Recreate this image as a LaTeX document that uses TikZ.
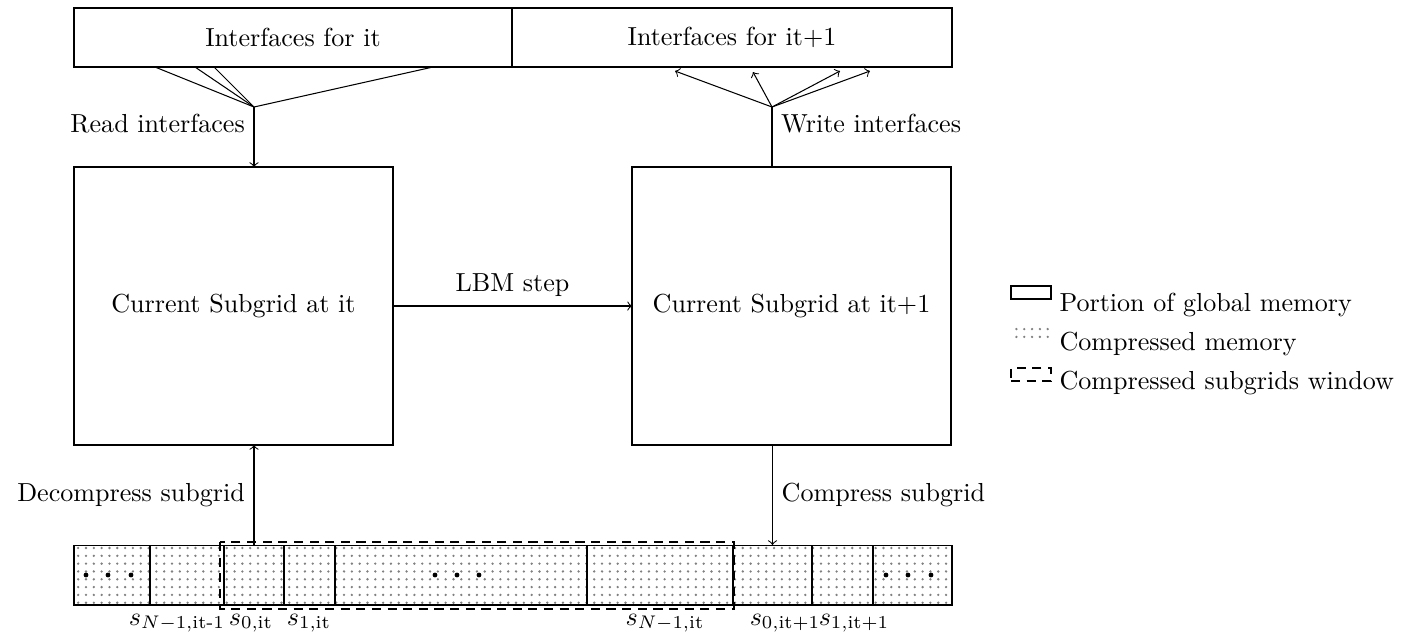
\documentclass[tikz,border=0pt]{standalone}
\usepackage{amsmath}
\usetikzlibrary{patterns}
\begin{document}
\begin{tikzpicture}[x=0.3837pt,y=-0.3837pt,
  box/.style={draw, rectangle, inner sep=0pt, outer sep=0pt, line width=0.4pt},
  ifbox/.style={box, minimum height=22.64pt},
  subbox/.style={box, minimum width=122.4pt, minimum height=106.67pt},
  cell/.style={draw, rectangle, inner sep=0pt, outer sep=0pt, minimum height=23.02pt, pattern=dots, pattern color=gray},
  win/.style={draw, line width=0.9pt, dash pattern=on 3.5pt off 2.5pt, rectangle, inner sep=0pt, outer sep=0pt},
  conn/.style={->},
  fan/.style={-},
  lab/.style={anchor=base, inner sep=0pt},
  edot/.style={fill=black},
  legtext/.style={anchor=base west, inner sep=0pt}]
\useasboundingbox (0,0) rectangle (1413,634);

% interface boxes
\node[ifbox, minimum width=168.06pt] (ifit) at (293,37.5) {Interfaces for it};
\node[ifbox, minimum width=168.83pt] (ifnext) at (732,37.5) {Interfaces for it+1};

% subgrid boxes
\node[subbox] (cur) at (233.5,306) {Current Subgrid at it};
\node[subbox] (nxt) at (791.5,306) {Current Subgrid at it+1};

% compressed strip (x centre, width in pt)
\node[cell, minimum width=29.16pt] (c1) at (112,575) {};
\node[cell, minimum width=28.39pt] (c2) at (187,575) {};
\node[cell, minimum width=23.02pt] (c3) at (254,575) {};
\node[cell, minimum width=19.57pt] (c4) at (309.5,575) {};
\node[cell, minimum width=96.69pt] (c5) at (461,575) {};
\node[cell, minimum width=56.02pt] (c6) at (660,575) {};
\node[cell, minimum width=30.31pt] (c7) at (772.5,575) {};
\node[cell, minimum width=23.41pt] (c8) at (842.5,575) {};
\node[cell, minimum width=30.31pt] (c9) at (912.5,575) {};

% ellipsis dots
\foreach \xx in {86,108,131, 435,457,479, 886,908,931}
  \fill[edot] (\xx,575) circle (2.4);

% compressed subgrids window
\draw[win] (220,542) rectangle (734,609);

% cell labels
\node[lab] (l2) at (177,625) {$s_{N-1,\text{it-1}}$};
\node[lab] (l3) at (251,625) {$s_{0,\text{it}}$};
\node[lab] (l4) at (309,625) {$s_{1,\text{it}}$};
\node[lab] (l6) at (665,625) {$s_{N-1,\text{it}}$};
\node[lab] (l7) at (785,625) {$s_{0,\text{it+1}}$};
\node[lab] (l8) at (854,625) {$s_{1,\text{it+1}}$};

% read interfaces fan
\coordinate (rj) at (254,107);
\coordinate (r1) at (155,67);
\coordinate (r2) at (195,67);
\coordinate (r3) at (214,67);
\coordinate (r4) at (433,67);
\foreach \p in {r1,r2,r3,r4} \draw[fan] (\p) -- (rj);
\draw[conn] (rj) -- node[left, pos=0.27] {Read interfaces} (cur.north -| rj);

% write interfaces fan
\coordinate (wj) at (772,107);
\coordinate (w1) at (675,71);
\coordinate (w2) at (753,72);
\coordinate (w3) at (840,71);
\coordinate (w4) at (870,71);
\foreach \p in {w1,w2,w3,w4} \draw[conn] (wj) -- (\p);
\draw[fan] (nxt.north -| wj) -- node[right, pos=0.73] {Write interfaces} (wj);

% LBM step
\draw[conn] (cur.east) -- node[above] {LBM step} (nxt.west);

% decompress / compress
\draw[conn] (c3.north) -- node[left] {Decompress subgrid} (cur.south -| c3.north);
\draw[conn] (nxt.south -| c7.north) -- node[right] {Compress subgrid} (c7.north);

% legend
\node[box, minimum width=15.35pt, minimum height=4.99pt] (lg1) at (1031,292.5) {};
\node[legtext] (lt1) at (1059,311) {Portion of global memory};
\node[inner sep=0pt, outer sep=0pt, minimum width=13.5pt, minimum height=5.8pt, pattern=dots, pattern color=gray] (lg2) at (1032,333) {};
\node[legtext] (lt2) at (1059,350) {Compressed memory};
\node[win, minimum width=15.35pt, minimum height=4.99pt] (lg3) at (1031,374.5) {};
\node[legtext] (lt3) at (1059,389) {Compressed subgrids window};
\end{tikzpicture}
\end{document}
